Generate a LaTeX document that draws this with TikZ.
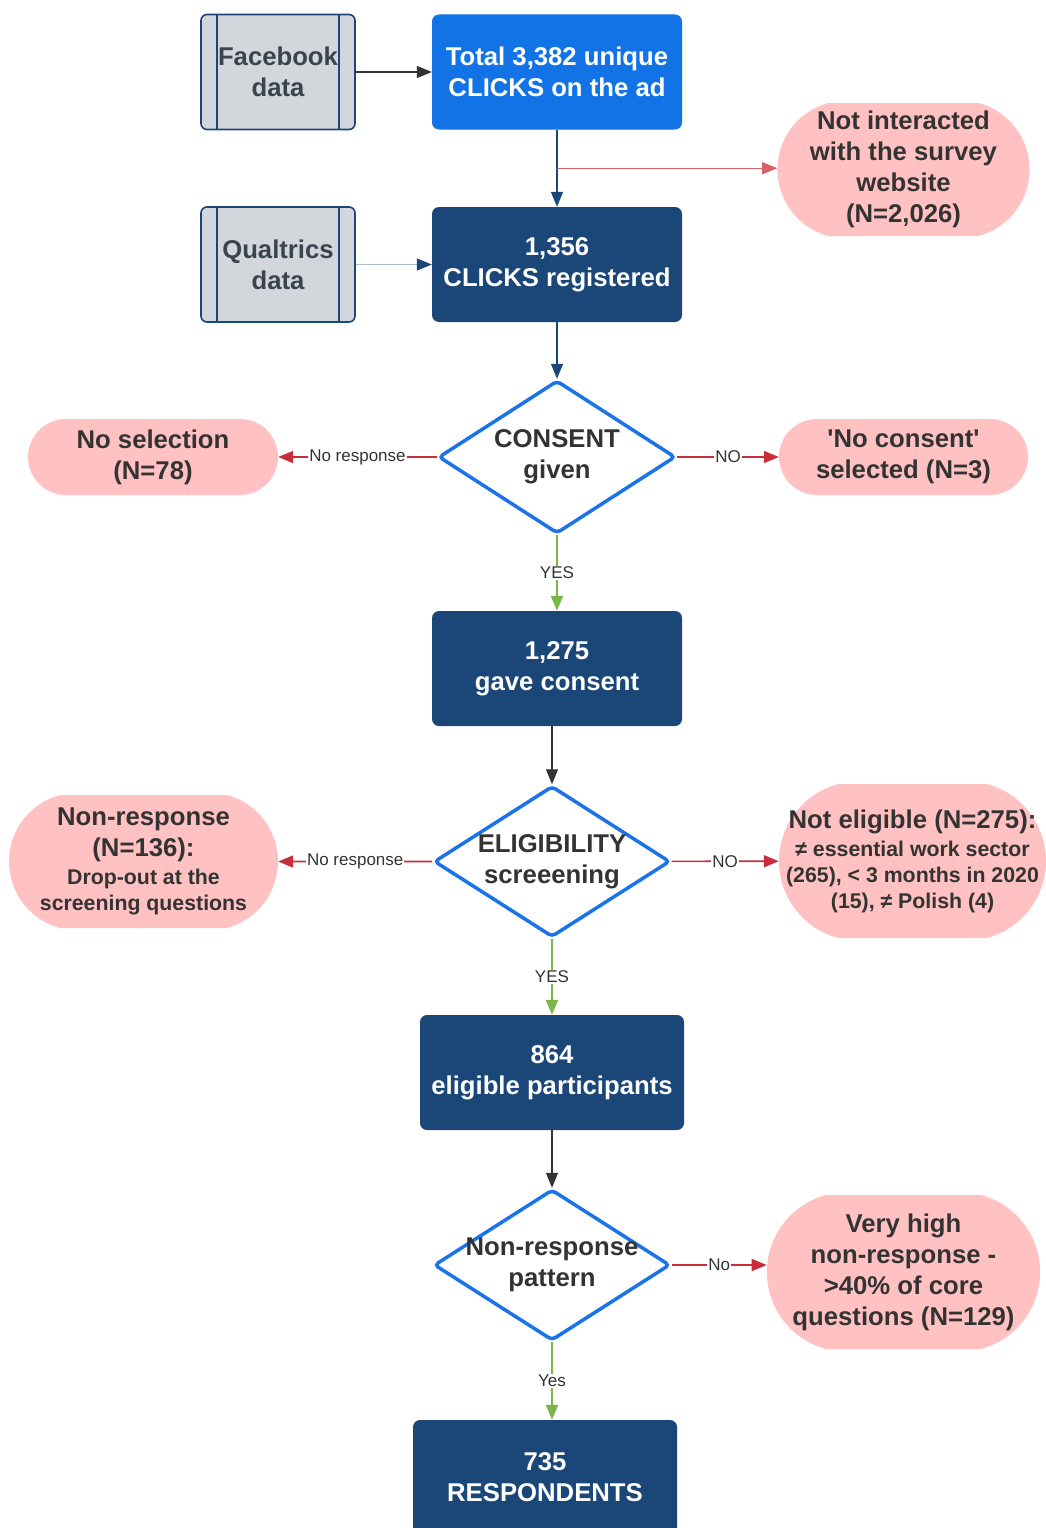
\documentclass[tikz,border=0pt]{standalone}
\usepackage{fontspec}
\setmainfont{Liberation Sans}[Ligatures=TeXOff]
\usetikzlibrary{arrows.meta, shapes.geometric, shapes.misc}

\definecolor{brightblue}{HTML}{1273E6}
\definecolor{navy}{HTML}{1A4678}
\definecolor{pinkfill}{HTML}{FFC1C1}
\definecolor{darktext}{HTML}{333333}
\definecolor{greyfill}{HTML}{D3D6DA}
\definecolor{greytext}{HTML}{3A4450}
\definecolor{redline}{HTML}{C92D39}
\definecolor{greenline}{HTML}{7AB648}
\definecolor{diablue}{HTML}{1A73E8}
\definecolor{paleline}{HTML}{A9BCD0}

\newcommand{\bigtxt}{\fontsize{25.7}{31}\selectfont\bfseries}
\newcommand{\smalltxt}{\fontsize{21.3}{26}\selectfont\bfseries}
\newcommand{\narrow}[1]{\makebox[140pt][c]{#1}}

\begin{document}
\begin{tikzpicture}[x=1pt, y=-1pt,
  box/.style={rectangle, rounded corners=7pt, fill=navy, text=white, font=\bigtxt,
    align=center, minimum width=250pt, minimum height=115pt, inner sep=0pt},
  databox/.style={rectangle, rounded corners=6pt, draw=navy, line width=1.6pt,
    fill=greyfill, text=greytext, font=\bigtxt, align=center, minimum width=154pt,
    minimum height=115pt, inner sep=0pt,
    path picture={\draw[navy, line width=1.6pt]
      ([xshift=16pt]path picture bounding box.north west) -- ([xshift=16pt]path picture bounding box.south west)
      ([xshift=-16pt]path picture bounding box.north east) -- ([xshift=-16pt]path picture bounding box.south east);}},
  term/.style={rounded rectangle, fill=pinkfill, text=darktext, font=\bigtxt,
    align=center, inner sep=0pt},
  decision/.style={diamond, draw=diablue, line width=3.5pt, rounded corners=4pt,
    fill=white, text=darktext, font=\bigtxt, align=center, inner sep=0pt,
    minimum width=237pt, minimum height=153pt, shape aspect=1.55},
  lbl/.style={font=\fontsize{17}{20}\selectfont, text=darktext, fill=white, inner sep=1pt},
  >={Triangle[length=15pt, width=12pt]}]
  \useasboundingbox (0,0) rectangle (1046,1528);

  % sources and first counts
  \node[databox] (fb) at (278,72) {Facebook\\data};
  \node[box, fill=brightblue] (tot) at (557,72) {Total 3,382 unique\\CLICKS on the ad};
  \node[term, minimum width=249pt, minimum height=133pt, rounded rectangle arc length=150] (ni) at (903.5,169.5)
    {Not interacted\\with the survey\\website\\(N=2,026)};
  \node[databox] (qd) at (278,264.5) {Qualtrics\\data};
  \node[box] (reg) at (557,264.5) {1,356\\CLICKS registered};

  % consent
  \node[decision] (cons) at (557,457) {CONSENT\\given};
  \node[term, minimum width=250pt, minimum height=76pt] (nosel) at (153,457) {No selection\\(N=78)};
  \node[term, minimum width=249pt, minimum height=76pt] (nocons) at (903.5,457) {'No consent'\\selected (N=3)};
  \node[box] (gave) at (557,668.5) {1,275\\gave consent};

  % eligibility
  \node[decision, minimum width=236pt, minimum height=151pt] (elig) at (552,861.5) {ELIGIBILITY\\screeening};
  \node[term, minimum width=269pt, minimum height=133pt, rounded rectangle arc length=150] (nonresp) at (143.5,861.5)
    {Non-response\\(N=136):\\[-3pt]\smalltxt Drop-out at the\\[-5pt]\smalltxt screening questions};
  \node[term, minimum width=267pt, minimum height=154pt, rounded rectangle arc length=150] (notel) at (912.5,861)
    {\narrow{Not eligible (N=275):}\\[-3pt]\smalltxt\narrow{≠ essential work sector}\\[-5pt]
     \smalltxt\narrow{(265), < 3 months in 2020}\\[-5pt]\smalltxt\narrow{(15), ≠ Polish (4)}};
  \node[box, minimum width=264pt] (elp) at (552,1072.5) {864\\eligible participants};

  % non-response pattern
  \node[decision, minimum width=236pt, minimum height=151pt, inner xsep=-20pt] (pat) at (552,1265) {Non-response\\pattern};
  \node[term, minimum width=269pt, minimum height=154pt, rounded rectangle arc length=150] (vhigh) at (903.5,1272)
    {Very high\\non-response -\\>40\% of core\\questions (N=129)};
  \node[box, minimum width=264pt] (resp) at (545,1477.5) {735\\RESPONDENTS};

  % connectors
  \draw[->, darktext, line width=1.2pt] (fb) -- (tot);
  \draw[-{Triangle[length=15pt, width=12pt, color=navy]}, paleline, line width=1.2pt] (qd) -- (reg);
  \draw[->, navy, line width=1.4pt] (tot) -- coordinate[pos=.5] (split) (reg);
  \draw[->, redline!75, line width=1.2pt] (split) -- (split -| ni.west);
  \draw[->, navy, line width=1.4pt] (reg) -- (cons);

  \draw[->, redline, line width=1.6pt] (cons) -- node[lbl]{No response} (nosel);
  \draw[->, redline, line width=1.6pt] (cons) -- node[lbl]{NO} (nocons);
  \draw[->, greenline, line width=2pt] (cons) -- node[lbl]{YES} (gave);

  \draw[->, darktext, line width=1.2pt] (gave.south -| elig.north) -- (elig.north);
  \draw[->, redline, line width=1.6pt] (elig) -- node[lbl]{No response} (nonresp);
  \draw[->, redline, line width=1.6pt] (elig) -- node[lbl]{NO} (notel);
  \draw[->, greenline, line width=2pt] (elig) -- node[lbl]{YES} (elp);

  \draw[->, darktext, line width=1.2pt] (elp) -- (pat);
  \draw[->, redline, line width=1.6pt] (pat) -- node[lbl]{No} (pat -| vhigh.west);
  \draw[->, greenline, line width=2pt] (pat.south) -- node[lbl]{Yes} (pat.south |- resp.north);
\end{tikzpicture}
\end{document}
